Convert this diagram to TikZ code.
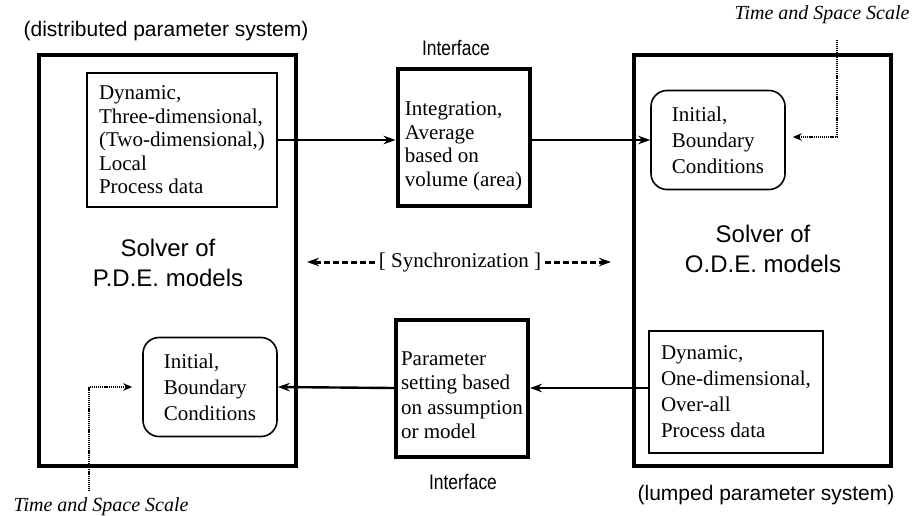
\documentclass[tikz,border=0pt]{standalone}
\usepackage{fontspec}
\setmainfont{Liberation Serif}
\setsansfont{Liberation Sans}
\usepackage{graphicx}
\usepackage{tikz}
\usetikzlibrary{positioning, calc}
\usetikzlibrary{arrows.meta}
\tikzset{>={Stealth[length=12pt,width=8.5pt]}}
\tikzset{
  bigbox/.style={draw, line width=4pt, minimum width=257pt, minimum height=411pt, inner sep=0pt},
  ifbox/.style={draw, line width=4pt, minimum width=132pt, minimum height=137pt, inner sep=0pt},
  iftext/.style={align=left, inner sep=0pt, font=\boxfont},
  databox/.style={draw, line width=1.6pt, align=left, inner sep=0pt, font=\boxfont},
  condbox/.style={draw, line width=1.6pt, rounded corners=16pt, minimum width=134pt, minimum height=99pt, align=left, inner sep=0pt, font=\fontsize{21}{26}\selectfont},
  flow/.style={->, line width=2.4pt},
  syncline/.style={->, line width=3pt, dash pattern=on 6pt off 3pt},
  scaleline/.style={-{Stealth[length=9pt,width=7.5pt]}, line width=2.6pt, dash pattern=on 1.2pt off 0.9pt},
  syslabel/.style={font=\fontsize{21}{24}\sffamily},
  solverlabel/.style={align=center, font=\fontsize{24}{30}\sffamily},
  scalelabel/.style={font=\fontsize{20}{24}\itshape},
}
\newcommand{\boxfont}{\fontsize{21}{23.5}\selectfont}
\newcommand{\narrowsf}[1]{\scalebox{0.83}[1]{\fontsize{21}{24}\sffamily #1}}

\begin{document}
\begin{tikzpicture}[x=1pt, y=-1pt]
  \useasboundingbox (0,0) rectangle (915,515);

  % the two solvers
  \node[bigbox] (pde) at (167.5,260.5) {};
  \node[bigbox] (ode) at (762.5,260.5) {};
  \node[syslabel] (distlbl) at (166,31) {(distributed parameter system)};
  \node[syslabel] (lumplbl) at (766,495) {(lumped parameter system)};
  \node[solverlabel] (pdelbl) at (168,263) {Solver of\\P.D.E. models};
  \node[solverlabel] (odelbl) at (763,249) {Solver of\\O.D.E. models};

  % contents of the solvers
  \node[databox, minimum width=190.5pt, minimum height=134.5pt] (pdedata) at (182,140)
    {Dynamic,\\Three-dimensional,\\(Two-dimensional,)\\Local\\Process data};
  \node[condbox] (pdecond) at (210,387) {Initial,\\Boundary\\Conditions};
  \node[databox, minimum width=174.5pt, minimum height=122.5pt,
        font=\fontsize{21}{26}\selectfont] (odedata) at (736,392)
    {Dynamic,\\One-dimensional,\\Over-all\\Process data};
  \node[condbox] (odecond) at (718,140) {Initial,\\Boundary\\Conditions};

  % interfaces
  \node[ifbox] (iftop) at (463.5,137.5) {};
  \node[iftext] (iftoptxt) at ([yshift=-9pt]iftop.center) {Integration,\\Average\\based on\\volume (area)};
  \node[ifbox] (ifbot) at (462,388) {};
  \node[iftext, font=\fontsize{21}{24.5}\selectfont] (ifbottxt) at ([yshift=-7pt]ifbot.center)
    {Parameter\\setting based\\on assumption\\or model};
  \node (iftoplbl) at (456,48) {\narrowsf{Interface}};
  \node (ifbotlbl) at (463,482) {\narrowsf{Interface}};

  \draw[flow] (pdedata.east) -- (pdedata.east -| iftop.west);
  \draw[flow] (iftop.east |- odecond.west) -- (odecond.west);
  \draw[flow] (odedata.west |- ifbot.east) -- (ifbot.east);
  \draw[flow] (ifbot.west) -- (pdecond.east);

  % synchronization
  \node[font=\boxfont, inner sep=4pt] (sync) at (460,262) {[ Synchronization ]};
  \coordinate (syncL) at ([xshift=9pt]pde.east |- sync);
  \coordinate (syncR) at ([xshift=-21pt]ode.west |- sync);
  \draw[syncline] (sync.west) -- (syncL);
  \draw[syncline] (sync.east) -- (syncR);

  % time and space scale
  \node[scalelabel] (scaleR) at (822,15) {Time and Space Scale};
  \node[scalelabel] (scaleL) at (101,507) {Time and Space Scale};
  \draw[scaleline] ([xshift=15pt,yshift=-12pt]scaleR.south) |- ([xshift=7pt,yshift=3pt]odecond.east);
  \draw[scaleline] ([xshift=-12pt,yshift=3pt]scaleL.north) |- ([xshift=-10pt]pdecond.west);
\end{tikzpicture}
\end{document}
